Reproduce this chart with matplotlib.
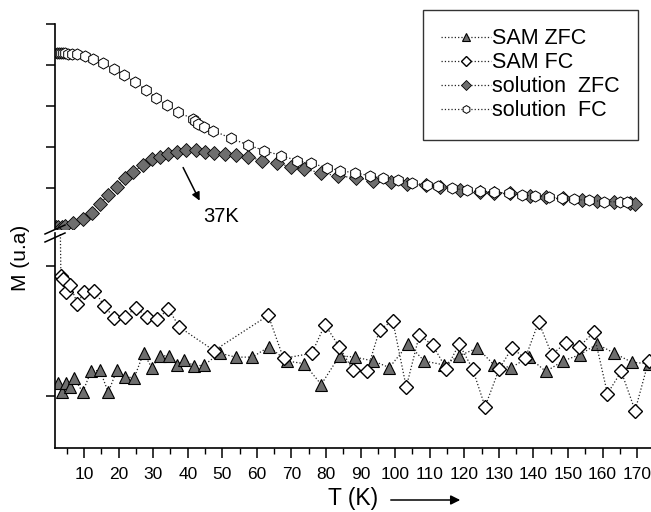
import matplotlib
matplotlib.use('Agg')
import matplotlib.pyplot as plt
from matplotlib.lines import Line2D
from matplotlib.ticker import MultipleLocator

plt.rcParams['font.family'] = ['Liberation Sans', 'DejaVu Sans']

# solution, upper panel (arbitrary units)
sol_fc_t = [2.2, 2.8, 3.4, 3.9, 4.5, 5.4, 6.5, 8.0, 10.3, 12.7, 15.6, 18.7, 21.6, 24.8, 28.0, 30.9, 33.9,
            37.1, 41.5, 42.1, 43.1, 44.8, 47.4, 52.5, 57.4, 62.2, 67.0, 71.6, 75.7, 80.2, 84.1, 88.4, 92.6,
            96.6, 100.8, 104.8, 109.2, 112.5, 116.4, 120.7, 124.6, 128.7, 132.8, 136.7, 140.5, 144.4, 148.2,
            151.6, 156.0, 160.3, 165.1, 167.0]
sol_fc_m = [4.30, 4.30, 4.30, 4.29, 4.29, 4.28, 4.27, 4.26, 4.23, 4.15, 4.04, 3.91, 3.76, 3.58, 3.39, 3.20, 3.02,
            2.86, 2.68, 2.63, 2.56, 2.50, 2.40, 2.21, 2.05, 1.91, 1.79, 1.67, 1.60, 1.50, 1.42, 1.37, 1.30,
            1.24, 1.20, 1.13, 1.07, 1.06, 0.99, 0.95, 0.92, 0.90, 0.87, 0.83, 0.80, 0.78, 0.75,
            0.72, 0.70, 0.67, 0.66, 0.65]

sol_zfc_t = [2.0, 2.6, 3.6, 4.5, 6.9, 9.6, 12.2, 14.6, 17.0, 19.5, 21.9, 24.3, 27.0, 29.6, 32.0, 34.4, 36.8,
             39.5, 42.3, 45.0, 47.7, 50.8, 54.0, 57.4, 61.6, 65.8, 69.8, 73.7, 78.5, 83.6, 88.7, 93.5, 98.8,
             103.4, 109.0, 113.0, 118.8, 124.4, 128.7, 133.3, 138.9, 143.7, 148.5, 154.0, 158.4, 163.2,
             168.0, 169.5]
sol_zfc_m = [0.06, 0.04, 0.06, 0.08, 0.14, 0.24, 0.40, 0.61, 0.83, 1.03, 1.24, 1.40, 1.56, 1.70, 1.76, 1.83, 1.87,
             1.93, 1.93, 1.87, 1.85, 1.83, 1.80, 1.76, 1.67, 1.60, 1.52, 1.46, 1.37, 1.29, 1.25, 1.18, 1.14,
             1.10, 1.07, 1.02, 0.95, 0.91, 0.89, 0.87, 0.80, 0.77, 0.75, 0.71, 0.68, 0.67,
             0.64, 0.62]

# SAM, lower panel
sam_fc_t = [3.0, 3.3, 4.0, 4.8, 6.0, 8.1, 10.0, 13.0, 15.9, 18.8, 21.9, 25.0, 28.2, 31.2, 34.4, 37.6, 47.6,
            63.3, 67.7, 75.9, 79.7, 83.8, 87.8, 91.8, 95.5, 99.3, 103.2, 107.0, 110.9, 114.8, 118.5, 122.4,
            126.0, 130.1, 133.8, 137.6, 141.5, 145.3, 149.4, 153.3, 157.4, 161.4, 165.4, 169.4, 173.3]
sam_fc_m = [1.60, 0.92, 0.90, 0.80, 0.85, 0.71, 0.80, 0.81, 0.69, 0.60, 0.61, 0.68, 0.61, 0.59, 0.67, 0.53, 0.35,
            0.62, 0.29, 0.33, 0.55, 0.38, 0.20, 0.19, 0.51, 0.58, 0.07, 0.47, 0.39, 0.21, 0.40, 0.21,
            -0.08, 0.21, 0.37, 0.29, 0.57, 0.32, 0.41, 0.38, 0.49, 0.02, 0.19, -0.11, 0.27]

sam_zfc_t = [2.6, 3.6, 4.8, 5.8, 7.2, 9.6, 12.0, 14.6, 17.0, 19.5, 21.9, 24.5, 27.2, 29.6, 32.0, 34.6, 37.0,
             39.0, 41.9, 44.8, 49.2, 53.9, 58.7, 63.5, 68.7, 73.7, 78.6, 83.9, 88.4, 93.7, 98.3, 103.8,
             108.4, 114.2, 118.5, 123.8, 128.6, 133.6, 138.6, 143.6, 148.5, 153.5, 158.4, 163.4, 168.5, 173.3]
sam_zfc_m = [0.10, 0.03, 0.10, 0.07, 0.14, 0.03, 0.19, 0.20, 0.03, 0.20, 0.15, 0.14, 0.33, 0.22, 0.31, 0.31, 0.24,
             0.28, 0.23, 0.24, 0.33, 0.30, 0.30, 0.38, 0.27, 0.25, 0.09, 0.31, 0.30, 0.27, 0.22, 0.40,
             0.27, 0.24, 0.31, 0.37, 0.24, 0.22, 0.30, 0.19, 0.27, 0.32, 0.40, 0.33, 0.26, 0.25]

labels = ['SAM ZFC', 'SAM FC', 'solution  ZFC', 'solution  FC']
gray = '#6e6e6e'

W, H = 651, 512
fig = plt.figure(figsize=(W / 100, H / 100), dpi=100)

def fx(px):
    return px / W

def fy(py):
    return 1 - py / H

left, right = 55, 651
ax_top = fig.add_axes([fx(left), fy(229), fx(right - left), (229 - 24) / H])
ax_bot = fig.add_axes([fx(left), fy(448), fx(right - left), (448 - 233) / H])

line_kw = dict(linestyle=':', linewidth=0.9, color='#222222')

ax_bot.plot(sam_zfc_t, sam_zfc_m, marker='^', markersize=9, markerfacecolor=gray,
            markeredgecolor='black', markeredgewidth=0.8, **line_kw)
ax_bot.plot(sam_fc_t, sam_fc_m, marker='D', markersize=7.5, markerfacecolor='white',
            markeredgecolor='black', markeredgewidth=1.0, **line_kw)
ax_top.plot(sol_zfc_t, sol_zfc_m, marker='D', markersize=7.5, markerfacecolor=gray,
            markeredgecolor='black', markeredgewidth=0.6, **line_kw)
ax_top.plot(sol_fc_t, sol_fc_m, marker='h', markersize=8, markerfacecolor='white',
            markeredgecolor='black', markeredgewidth=0.7, **line_kw)

xmin, xmax = 1.6, 174
for ax in (ax_top, ax_bot):
    ax.set_xlim(xmin, xmax)
    ax.spines['top'].set_visible(False)
    ax.spines['right'].set_visible(False)
    ax.spines['left'].set_linewidth(1.2)
    ax.spines['bottom'].set_linewidth(1.2)
    ax.tick_params(axis='y', direction='out', length=6.5, width=1.1, labelleft=False)
    ax.patch.set_alpha(0)

ax_top.set_ylim(0, 5)
ax_top.set_yticks([1, 2, 3, 4, 5])
ax_top.spines['bottom'].set_visible(False)
ax_top.tick_params(axis='x', bottom=False, labelbottom=False)

ax_bot.set_ylim(-0.397, 1.252)
ax_bot.set_yticks([0, 1])
ax_bot.set_xticks(range(10, 171, 10))
ax_bot.xaxis.set_minor_locator(MultipleLocator(5))
ax_bot.tick_params(axis='x', which='major', direction='out', length=7, width=1.1, labelsize=12.5, pad=7)
ax_bot.tick_params(axis='x', which='minor', direction='out', length=4, width=1.0)

# 37K annotation
ax_top.annotate('', xy=(43.8, 0.63), xytext=(38.3, 1.56),
                arrowprops=dict(arrowstyle='-|>', color='black', lw=1.1, mutation_scale=12))
ax_top.text(49.5, 0.3, '37K', fontsize=14.5, ha='center', va='center')

# axis break marks
for dy in (0, 8):
    fig.add_artist(Line2D([fx(45), fx(65)], [fy(234 + dy), fy(225 + dy)], color='black', lw=1.1))

# axis titles
fig.text(fx(20), fy(258), 'M (u.a)', rotation=90, fontsize=15, ha='center', va='center')
fig.text(fx(353), fy(498), 'T (K)', fontsize=16.5, ha='center', va='center')
fig.add_artist(plt.Annotation('', xy=(fx(463), fy(500)), xytext=(fx(388), fy(500)),
                              xycoords='figure fraction', textcoords='figure fraction',
                              arrowprops=dict(arrowstyle='-|>', color='black', lw=1.1, mutation_scale=14)))

handles = ax_bot.get_lines() + ax_top.get_lines()
leg = fig.legend(handles, labels, loc='upper right', bbox_to_anchor=(fx(638), fy(10)),
                 bbox_transform=fig.transFigure, fontsize=15.5, frameon=True, fancybox=False,
                 edgecolor='black', handlelength=2.3, handletextpad=0.05, labelspacing=0.14,
                 borderpad=0.85, markerscale=0.7, borderaxespad=0)
leg.get_frame().set_linewidth(1.0)

fig.savefig('out.png', dpi=100)
